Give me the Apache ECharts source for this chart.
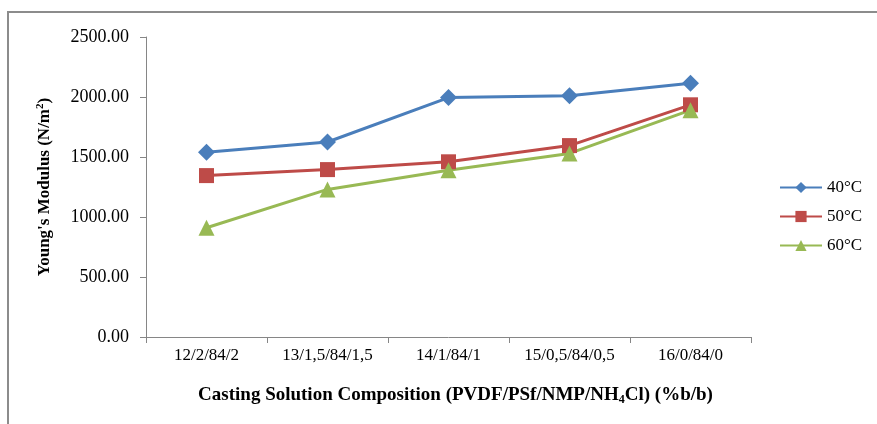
<!DOCTYPE html>
<html>
<head>
<meta charset="utf-8">
<script src="https://cdn.jsdelivr.net/npm/echarts@6/dist/echarts.min.js"></script>
<style>
  html, body { margin: 0; padding: 0; background: #fff; }
  #main { width: 877px; height: 424px; }
</style>
</head>
<body>
<div id="main"></div>
<script>
// categories on the x axis
var categories = ["12/2/84/2", "13/1,5/84/1,5", "14/1/84/1", "15/0,5/84/0,5", "16/0/84/0"];
// Young's modulus values
var temp40 = [1540, 1625, 1995, 2010, 2115];
var temp50 = [1345, 1395, 1460, 1595, 1935];
var temp60 = [910, 1230, 1390, 1530, 1890];
var seriesNames = ["40°C", "50°C", "60°C"];

var myChart = echarts.init(document.getElementById("main"));
var serif = "Liberation Serif";
var axisGray = "#868686";

function lineSeries(name, data, color, symbol, size) {
  return {
    name: name,
    type: "line",
    data: data,
    symbol: symbol,
    symbolSize: size,
    lineStyle: { color: color, width: 3 },
    itemStyle: { color: color },
  };
}

var option = {
  animation: false,
  textStyle: { fontFamily: serif },
  graphic: [
    {
      type: "rect",
      shape: { x: 8, y: 12, width: 900, height: 440 },
      style: { fill: null, stroke: "#8c8c8c", lineWidth: 2 },
    },
  ],
  grid: {
    left: 146,
    top: 37,
    right: 126,
    bottom: 87,
  },
  legend: {
    orient: "vertical",
    left: 774,
    top: 174,
    itemWidth: 42,
    itemHeight: 14,
    itemGap: 12,
    textStyle: { fontFamily: serif, fontSize: 17, color: "#000" },
    data: seriesNames,
  },
  xAxis: {
    type: "category",
    data: categories,
    boundaryGap: true,
    axisLine: { lineStyle: { color: axisGray, width: 1 } },
    axisTick: { show: true, length: 6, lineStyle: { color: axisGray } },
    axisLabel: { fontFamily: serif, fontSize: 17, color: "#000", margin: 10 },
    name: "{b|Casting Solution Composition (PVDF/PSf/NMP/NH}{s|4}{b|Cl) (%b/b)}",
    nameLocation: "middle",
    nameGap: 48,
    nameTextStyle: {
      padding: [0, 0, 0, 14],
      rich: {
        b: { fontFamily: serif, fontWeight: "bold", fontSize: 19, color: "#000" },
        s: { fontFamily: serif, fontWeight: "bold", fontSize: 12, color: "#000", verticalAlign: "bottom", padding: [9, 0, 0, 0] },
      },
    },
  },
  yAxis: {
    type: "value",
    min: 0,
    max: 2500,
    interval: 500,
    splitLine: { show: false },
    axisLine: { show: true, lineStyle: { color: axisGray, width: 1 } },
    axisTick: { show: true, length: 6, lineStyle: { color: axisGray } },
    axisLabel: {
      fontFamily: serif,
      fontSize: 18,
      color: "#000",
      margin: 17,
      formatter: function (v) {
        return v.toFixed(2);
      },
    },
    name: "{b|Young's Modulus (N/m}{p|2}{b|)}",
    nameLocation: "middle",
    nameGap: 92,
    nameTextStyle: {
      rich: {
        b: { fontFamily: serif, fontWeight: "bold", fontSize: 17, color: "#000" },
        p: { fontFamily: serif, fontWeight: "bold", fontSize: 11, color: "#000", verticalAlign: "top", padding: [0, 0, 8, 0] },
      },
    },
  },
  series: [
    lineSeries(seriesNames[0], temp40, "#4A7EBB", "diamond", 17),
    lineSeries(seriesNames[1], temp50, "#BE4B48", "rect", 15),
    lineSeries(seriesNames[2], temp60, "#98B954", "triangle", 16),
  ],
};

myChart.setOption(option);
</script>
</body>
</html>
